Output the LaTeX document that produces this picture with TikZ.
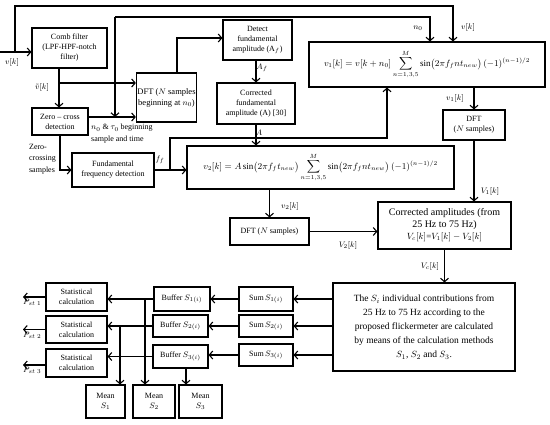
\documentclass[tikz,border=0pt]{standalone}
\usepackage{amsmath}
\usepackage{fontspec}
\setmainfont{Liberation Serif}
\usetikzlibrary{arrows.meta, positioning, calc}

\tikzset{
  blk/.style={draw, line width=1.1pt, align=center, inner sep=1pt,
              font=\fontsize{8}{10}\selectfont},
  arr/.style={line width=1.1pt, -{Straight Barb[length=3.5pt, width=8pt]}},
  lbl/.style={font=\fontsize{8.5}{10}\selectfont, inner sep=1pt}
}

\begin{document}
\begin{tikzpicture}[x=1pt, y=-1pt]
  \useasboundingbox (0,0) rectangle (550,424);

  % upper part
  \node[blk, minimum width=75, minimum height=40] (comb) at (69.5,48) {Comb filter\\(LPF-HPF-notch\\filter)};
  \node[blk, minimum width=56, minimum height=27] (zc) at (60,121.5) {Zero -- cross\\detection};
  \node[blk, minimum width=53, minimum height=49, font=\fontsize{8.5}{11}\selectfont] (dft1) at (166.5,97.5) {DFT ($N$ samples\\beginning at $n_0$)};
  \node[blk, minimum width=69, minimum height=40] (det) at (257.5,40) {Detect\\fundamental\\amplitude (A$_f$)};
  \node[blk, minimum width=78, minimum height=41] (corr) at (256,103.5) {Corrected\\fundamental\\amplitude (A) [30]};
  \node[blk, minimum width=82, minimum height=34] (ffd) at (113,170) {Fundamental\\frequency detection};
  \node[blk, minimum width=236, minimum height=45, font=\fontsize{9}{11}\selectfont] (v1) at (427,64.5)
    {$v_1[k]=v[k+n_0]\displaystyle\sum_{n=1,3,5}^{M}\sin\!\big(2\pi f_f n t_{new}\big)\,(-1)^{(n-1)/2}$};
  \node[blk, minimum width=267, minimum height=43, font=\fontsize{9}{11}\selectfont] (v2) at (320.5,167.5)
    {$v_2[k]=A\sin\!\big(2\pi f_f t_{new}\big)\displaystyle\sum_{n=1,3,5}^{M}\sin\!\big(2\pi f_f n t_{new}\big)\,(-1)^{(n-1)/2}$};
  \node[blk, minimum width=62, minimum height=30] (dft2) at (474,125) {DFT\\($N$ samples)};
  \node[blk, minimum width=79, minimum height=27] (dft3) at (269.5,231.5) {DFT ($N$ samples)};
  \node[blk, minimum width=133, minimum height=47, font=\fontsize{10}{12}\selectfont] (camp) at (444.5,225.5)
    {Corrected amplitudes (from\\25 Hz to 75 Hz)\\{\fontsize{9}{10}\selectfont $V_c[k]$=$V_1[k]-V_2[k]$}};
  \node[blk, minimum width=182, minimum height=88, font=\fontsize{9.5}{14}\selectfont] (sbox) at (424,327)
    {The $S_i$ individual contributions from\\25 Hz to 75 Hz according to the\\proposed flickermeter are calculated\\by means of the calculation methods\\$S_1$, $S_2$ and $S_3$.};

  % lower part
  \node[blk, minimum width=54, minimum height=24] (sum1) at (266,299) {Sum$\,S_{1(i)}$};
  \node[blk, minimum width=54, minimum height=22] (sum2) at (266,326) {Sum$\,S_{2(i)}$};
  \node[blk, minimum width=54, minimum height=22] (sum3) at (266,355) {Sum$\,S_{3(i)}$};
  \node[blk, minimum width=56, minimum height=24] (buf1) at (182,299) {Buffer $S_{1(i)}$};
  \node[blk, minimum width=55, minimum height=22] (buf2) at (180.5,326) {Buffer $S_{2(i)}$};
  \node[blk, minimum width=55, minimum height=23] (buf3) at (180.5,356.5) {Buffer $S_{3(i)}$};
  \node[blk, minimum width=61, minimum height=28] (stat1) at (76.5,297) {Statistical\\calculation};
  \node[blk, minimum width=61, minimum height=27] (stat2) at (76.5,329.5) {Statistical\\calculation};
  \node[blk, minimum width=61, minimum height=28] (stat3) at (76.5,363) {Statistical\\calculation};
  \node[blk, minimum width=39, minimum height=33] (mean1) at (105.5,401.5) {Mean\\$S_1$};
  \node[blk, minimum width=42, minimum height=33] (mean2) at (154,401.5) {Mean\\$S_2$};
  \node[blk, minimum width=43, minimum height=33] (mean3) at (200.5,401.5) {Mean\\$S_3$};

  % helper points
  \coordinate (in) at (0,52);
  \coordinate (split) at (15,52);
  \coordinate (vkt) at (453,6);
  \coordinate (n0t) at (115,17);
  \coordinate (n0b) at (115,117);
  \coordinate (n0r) at (430,17);
  \coordinate (vt) at (59,83);
  \coordinate (zcout) at (88,117);
  \coordinate (dup) at (177,38);
  \coordinate (ffs) at (170,170);
  \coordinate (fft) at (387,138);
  \coordinate (j1) at (145,299);
  \coordinate (j2) at (120,326);
  \coordinate (j3) at (186,356.5);
  \coordinate (p1) at (23,297);
  \coordinate (p2) at (23,329.5);
  \coordinate (p3) at (23,365);

  % input and feedback lines
  \draw[arr] (in) -- (comb.west |- in);
  \node[lbl] at (12,62) {$v[k]$};
  \draw[arr] (split) |- (vkt) -- (vkt |- v1.north);
  \node[lbl] at (468,27) {$v[k]$};
  \draw[arr] (n0t) -- (n0b);
  \draw[arr] (n0t) -- (n0r) -- (n0r |- v1.north);
  \node[lbl] at (418,28) {$n_0$};

  % filter, zero crossing, DFT
  \draw[arr] (vt |- comb.south) -- (vt |- zc.north);
  \node[lbl] at (42,87) {$\tilde{v}[k]$};
  \draw[arr] (vt) -- (vt -| dft1.west);
  \draw[arr] (zcout) -- (zcout -| dft1.west);
  \node[lbl, anchor=west, align=left, font=\fontsize{8}{12}\selectfont] at (90,134) {$n_0$ \& $\tau_0$ beginning\\sample and time};
  \draw[arr] (dft1.north -| dup) |- (det.west |- dup);
  \draw[arr] (zc.south) |- (ffd.west);
  \node[lbl, anchor=east, align=left, font=\fontsize{8}{11.5}\selectfont] at (57,159) {Zero-\\crossing\\samples};

  % amplitude and frequency
  \draw[arr] (det.south -| corr) -- (corr.north);
  \node[lbl] at (262,68) {$A_f$};
  \draw[arr] (corr.south) -- (corr.south |- v2.north);
  \node[lbl] at (259,133) {$A$};
  \draw[arr] (ffd.east) -- (v2.west |- ffd.east);
  \node[lbl] at (160,160) {$f_f$};
  \draw[arr] (ffs) |- (fft) -- (fft |- v1.south);

  % spectra
  \draw[arr] (v1.south -| dft2) -- (dft2.north);
  \node[lbl] at (455,98) {$v_1[k]$};
  \draw[arr] (dft2.south) -- (dft2.south |- camp.north);
  \node[lbl] at (490,191) {$V_1[k]$};
  \draw[arr] (v2.south -| dft3) -- (dft3.north);
  \node[lbl] at (290,206) {$v_2[k]$};
  \draw[arr] (dft3.east) -- (dft3.east -| camp.west);
  \node[lbl] at (348,245) {$V_2[k]$};
  \draw[arr] (camp.south) -- (camp.south |- sbox.north);
  \node[lbl] at (430,266) {$V_c[k]$};

  % three methods
  \foreach \i in {1,2,3} {
    \draw[arr] (sbox.west |- sum\i) -- (sum\i.east);
    \draw[arr] (sum\i.west) -- (sum\i.west -| buf\i.east);
    \draw[arr] (buf\i.west) -- (buf\i.west -| stat\i.east);
    \draw[arr] (stat\i.west |- p\i) -- (p\i);
    \node[lbl, anchor=north west, inner sep=0pt] at ([yshift=-2pt]p\i) {$P_{st\ \i}$};
  }
  \draw[arr] (j1) -- (j1 |- mean2.north);
  \draw[arr] (j2) -- (j2 |- mean1.north);
  \draw[arr] (j3 |- buf3.south) -- (j3 |- mean3.north);
\end{tikzpicture}
\end{document}
